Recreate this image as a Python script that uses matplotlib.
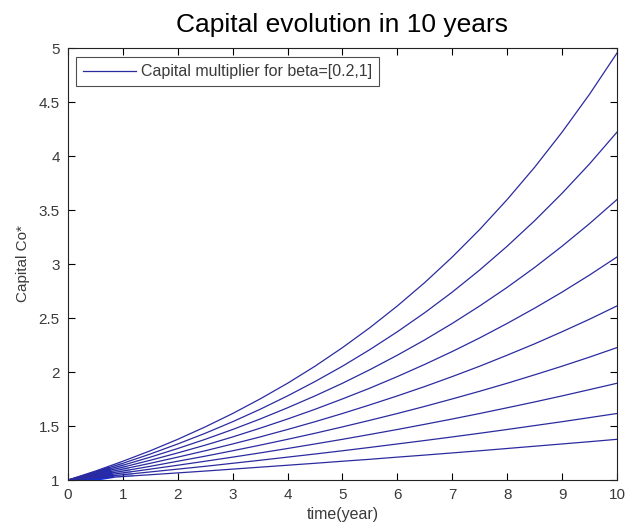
import matplotlib
matplotlib.use('Agg')
import matplotlib.pyplot as plt

plt.rcParams['font.family'] = ['Liberation Sans', 'DejaVu Sans']

# time in years (half-year steps) and capital multiplier for beta = 0.2 ... 1
t = [0, 0.5, 1, 1.5, 2, 2.5, 3, 3.5, 4, 4.5, 5, 5.5, 6, 6.5, 7, 7.5, 8, 8.5, 9, 9.5, 10]
c_b02 = [1, 1.016, 1.033, 1.049, 1.066, 1.083, 1.101, 1.119, 1.137, 1.155, 1.174,
         1.192, 1.212, 1.231, 1.251, 1.271, 1.292, 1.313, 1.334, 1.355, 1.377]
c_b03 = [1, 1.024, 1.049, 1.075, 1.101, 1.127, 1.155, 1.183, 1.212, 1.241, 1.271,
         1.302, 1.334, 1.366, 1.399, 1.433, 1.468, 1.504, 1.540, 1.578, 1.616]
c_b04 = [1, 1.033, 1.066, 1.101, 1.137, 1.174, 1.212, 1.251, 1.292, 1.334, 1.377,
         1.422, 1.468, 1.516, 1.565, 1.616, 1.669, 1.723, 1.779, 1.837, 1.896]
c_b05 = [1, 1.041, 1.083, 1.127, 1.174, 1.221, 1.271, 1.323, 1.377, 1.433, 1.492,
         1.553, 1.616, 1.682, 1.751, 1.822, 1.896, 1.974, 2.054, 2.138, 2.226]
c_b06 = [1, 1.049, 1.101, 1.155, 1.212, 1.271, 1.334, 1.399, 1.468, 1.540, 1.616,
         1.696, 1.779, 1.866, 1.958, 2.054, 2.156, 2.261, 2.373, 2.489, 2.612]
c_b07 = [1, 1.058, 1.119, 1.183, 1.251, 1.323, 1.399, 1.480, 1.565, 1.655, 1.751,
         1.851, 1.958, 2.071, 2.190, 2.316, 2.450, 2.591, 2.740, 2.898, 3.065]
c_b08 = [1, 1.066, 1.137, 1.212, 1.292, 1.377, 1.468, 1.565, 1.669, 1.779, 1.896,
         2.022, 2.156, 2.298, 2.450, 2.612, 2.784, 2.968, 3.165, 3.374, 3.597]
c_b09 = [1, 1.075, 1.155, 1.241, 1.334, 1.433, 1.540, 1.655, 1.779, 1.912, 2.054,
         2.208, 2.373, 2.550, 2.740, 2.945, 3.165, 3.401, 3.655, 3.927, 4.221]
c_b10 = [1, 1.083, 1.174, 1.271, 1.377, 1.492, 1.616, 1.751, 1.896, 2.054, 2.226,
         2.411, 2.612, 2.829, 3.065, 3.320, 3.597, 3.896, 4.221, 4.572, 4.953]
curves = [c_b02, c_b03, c_b04, c_b05, c_b06, c_b07, c_b08, c_b09, c_b10]

# dense bundle of lines near the origin (solid blue patch)
wedge_x = [0, 0.5, 0.75, 0.8, 0.85, 0.6]
wedge_y = [1, 1.083, 1.125, 1.08, 1.02, 1.0]
# lighter zone just after it
halo_x = [0.75, 0.95, 1.1, 1.2, 0.85, 0.8]
halo_y = [1.125, 1.16, 1.12, 1.03, 1.02, 1.08]

col = '#2b2ba0'
fig = plt.figure(figsize=(6.26, 5.31), dpi=100)
ax = fig.add_axes([0.1086, 0.0960, 0.8770, 0.8136])

for i, c in enumerate(curves):
    lab = 'Capital multiplier for beta=[0.2,1]' if i == 0 else None
    ax.plot(t, c, color=col, lw=0.9, label=lab)

ax.fill(wedge_x, wedge_y, color='#1030e8', lw=0)
ax.fill(halo_x, halo_y, color='#3050e0', alpha=0.35, lw=0)

ax.set_xlim(0, 10)
ax.set_ylim(1, 5)
ax.set_xticks(range(0, 11))
ax.set_yticks([1, 1.5, 2, 2.5, 3, 3.5, 4, 4.5, 5])
ax.set_yticklabels(['1', '1.5', '2', '2.5', '3', '3.5', '4', '4.5', '5'])
ax.tick_params(direction='in', top=True, right=True, length=5, width=0.8,
               labelsize=11, labelcolor='#3a3a3a', pad=6)
for s in ax.spines.values():
    s.set_linewidth(0.8)
    s.set_color('#222222')

ax.set_title('Capital evolution in 10 years', fontsize=19, pad=11.5)
ax.set_xlabel('time(year)', fontsize=11.5, color='#3a3a3a', labelpad=3)
ax.set_ylabel('Capital Co*', fontsize=11, color='#3a3a3a', labelpad=6)

leg = ax.legend(loc='upper left', fontsize=11.5, frameon=True, fancybox=False,
                edgecolor='#222222', handlelength=3.3, handletextpad=0.3,
                borderpad=0.45, bbox_to_anchor=(0.0146, 0.979), borderaxespad=0)
leg.get_frame().set_linewidth(0.8)
for txt in leg.get_texts():
    txt.set_color('#3a3a3a')

fig.savefig('out.png', dpi=100)
